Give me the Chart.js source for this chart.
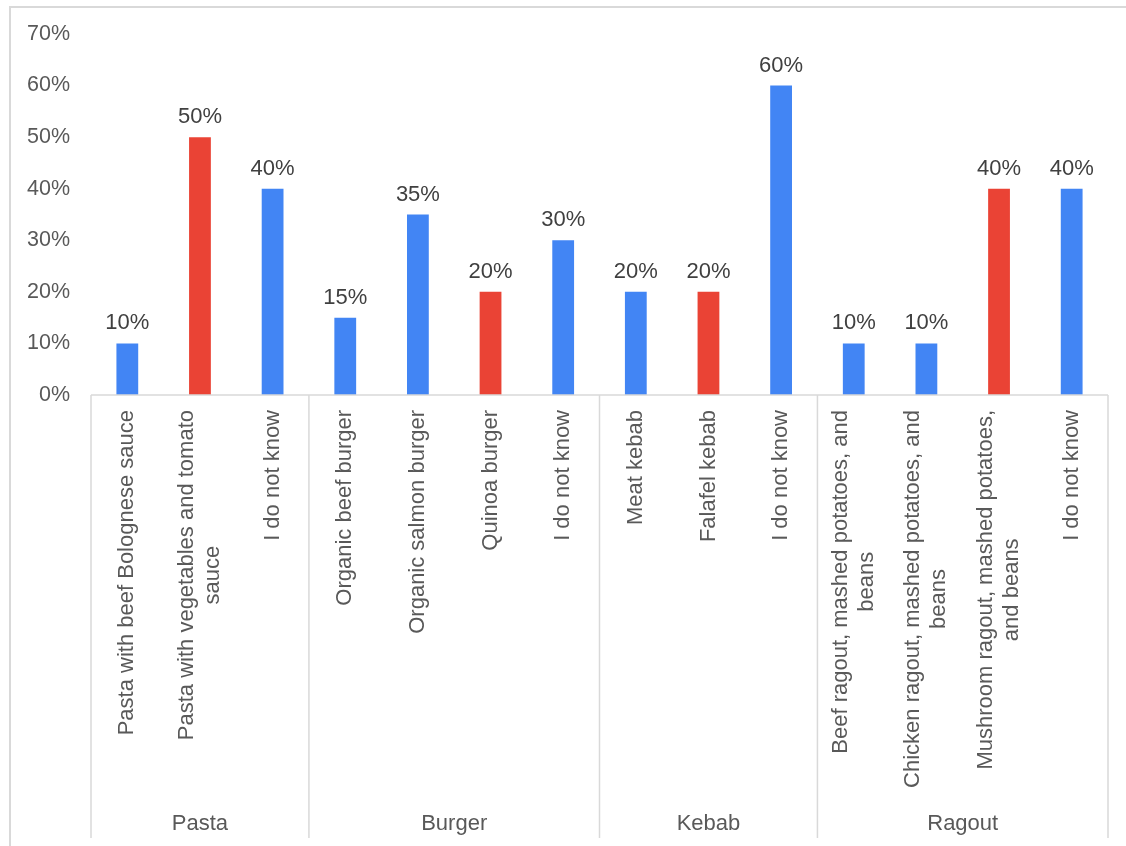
<!DOCTYPE html>
<html>
<head>
<meta charset="utf-8">
<style>
  html, body { margin: 0; padding: 0; background: #ffffff; }
  canvas { display: block; }
</style>
<script src="https://cdn.jsdelivr.net/npm/chart.js@4/dist/chart.umd.min.js"></script>
</head>
<body>
<canvas id="chart" width="1126" height="846"></canvas>
<script>
// Meal options, grouped by dish
const groups = ['Pasta', 'Burger', 'Kebab', 'Ragout'];
const groupSizes = [3, 4, 3, 4];

const options = [
  ['Pasta with beef Bolognese sauce'],
  ['Pasta with vegetables and tomato', 'sauce'],
  ['I do not know'],
  ['Organic beef burger'],
  ['Organic salmon burger'],
  ['Quinoa burger'],
  ['I do not know'],
  ['Meat kebab'],
  ['Falafel kebab'],
  ['I do not know'],
  ['Beef ragout, mashed potatoes, and', 'beans'],
  ['Chicken ragout, mashed potatoes, and', 'beans'],
  ['Mushroom ragout, mashed potatoes,', 'and beans'],
  ['I do not know']
];

// Share of respondents (%)
const shares = [10, 50, 40, 15, 35, 20, 30, 20, 20, 60, 10, 10, 40, 40];

// Meat-free options are highlighted
const meatFree = [false, true, false, false, false, true, false, false, true, false, false, false, true, false];

const BLUE = '#4285F4';
const RED = '#EA4335';
const GRID = '#d9d9d9';
const TEXT = '#595959';
const FONT = '"Liberation Sans", Arial, sans-serif';

// Value labels above each bar
const valueLabels = {
  id: 'valueLabels',
  afterDatasetsDraw(chart) {
    const ctx = chart.ctx;
    const meta = chart.getDatasetMeta(0);
    ctx.save();
    ctx.fillStyle = '#404040';
    ctx.font = '22px ' + FONT;
    ctx.textAlign = 'center';
    ctx.textBaseline = 'alphabetic';
    meta.data.forEach((bar, i) => {
      ctx.fillText(shares[i] + '%', bar.x, bar.y - 14);
    });
    ctx.restore();
  }
};

// Two-level category axis: option labels, group separators and group names
const groupedAxis = {
  id: 'groupedAxis',
  afterDraw(chart) {
    const ctx = chart.ctx;
    const x = chart.scales.x;
    const area = chart.chartArea;
    const axisY = area.bottom;
    const lineBottom = 838;

    ctx.save();
    // Outer frame
    ctx.strokeStyle = GRID;
    ctx.lineWidth = 2;
    ctx.beginPath();
    ctx.moveTo(10, 846);
    ctx.lineTo(10, 7);
    ctx.lineTo(1126, 7);
    ctx.stroke();

    // Axis line
    ctx.lineWidth = 1.5;
    ctx.beginPath();
    ctx.moveTo(area.left, axisY);
    ctx.lineTo(area.right, axisY);
    ctx.stroke();

    // Group boundaries
    const bounds = [area.left];
    let idx = 0;
    groupSizes.forEach((n, g) => {
      idx += n;
      if (g < groupSizes.length - 1) {
        bounds.push((x.getPixelForValue(idx - 1) + x.getPixelForValue(idx)) / 2);
      }
    });
    bounds.push(area.right);
    ctx.beginPath();
    bounds.forEach(bx => {
      ctx.moveTo(bx, axisY);
      ctx.lineTo(bx, lineBottom);
    });
    ctx.stroke();

    // Group names
    ctx.fillStyle = TEXT;
    ctx.font = '22px ' + FONT;
    ctx.textAlign = 'center';
    ctx.textBaseline = 'middle';
    groups.forEach((name, g) => {
      ctx.fillText(name, (bounds[g] + bounds[g + 1]) / 2, 824);
    });

    // Rotated option labels
    ctx.font = '22px ' + FONT;
    const lineH = 26;
    options.forEach((lines, i) => {
      const cx = x.getPixelForValue(i);
      const longest = Math.max(...lines.map(l => ctx.measureText(l).width));
      ctx.save();
      ctx.translate(cx, 410);
      ctx.rotate(-Math.PI / 2);
      ctx.textAlign = 'center';
      ctx.textBaseline = 'middle';
      lines.forEach((l, k) => {
        const off = (k - (lines.length - 1) / 2) * lineH;
        ctx.fillText(l, -longest / 2, off);
      });
      ctx.restore();
    });
    ctx.restore();
  }
};

new Chart(document.getElementById('chart'), {
  type: 'bar',
  data: {
    labels: options.map(o => o.join(' ')),
    datasets: [{
      data: shares,
      backgroundColor: meatFree.map(m => m ? RED : BLUE),
      borderWidth: 0,
      categoryPercentage: 1,
      barPercentage: 0.30
    }]
  },
  options: {
    responsive: false,
    animation: false,
    layout: { padding: { top: 34, right: 18, bottom: 451, left: 0 } },
    plugins: {
      legend: { display: false },
      tooltip: { enabled: false }
    },
    scales: {
      x: { display: false },
      y: {
        min: 0,
        max: 70,
        afterFit(scale) { scale.width = 91; },
        grid: { display: false, drawTicks: false },
        border: { display: false },
        ticks: {
          stepSize: 10,
          padding: 21,
          color: TEXT,
          font: { family: FONT, size: 21.5 },
          callback: v => v + '%'
        }
      }
    }
  },
  plugins: [valueLabels, groupedAxis]
});
</script>
</body>
</html>
